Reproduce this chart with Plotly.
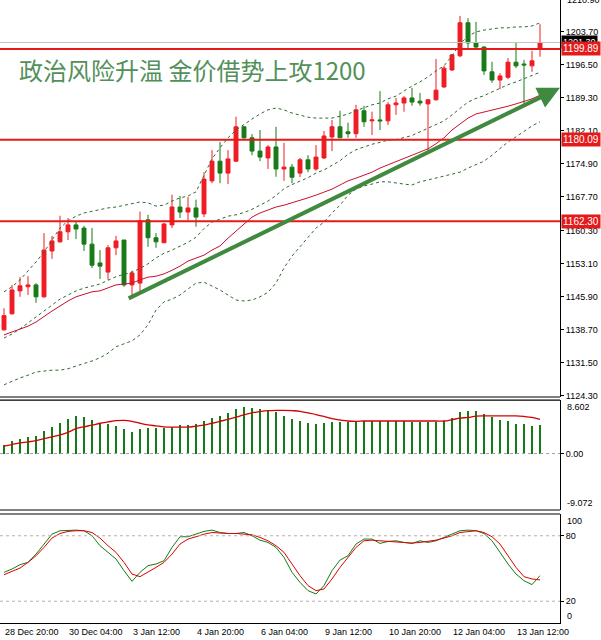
import plotly.graph_objects as go

# 4H gold candles (index 0 = 28 Dec 20:00)
opens = [1138.6, 1142.1, 1147.1, 1148.0, 1148.4, 1145.8, 1155.8, 1157.8, 1160.0, 1161.5,
         1160.8, 1157.3, 1153.2, 1151.2, 1156.5, 1158.2, 1148.4, 1148.8, 1162.6, 1158.7,
         1157.6, 1161.5, 1165.4, 1164.3, 1165.2, 1163.9, 1171.1, 1175.4, 1172.8, 1175.4,
         1182.9, 1180.5, 1177.6, 1176.1, 1178.5, 1173.7, 1174.1, 1172.8, 1175.7, 1173.7,
         1176.1, 1180.7, 1182.9, 1181.8, 1181.4, 1186.4, 1184.2, 1184.4, 1184.2, 1187.7,
         1188.1, 1189.2, 1188.5, 1187.9, 1188.8, 1191.6, 1195.3, 1198.4, 1205.6, 1201.2,
         1200.3, 1194.9, 1193.1, 1193.7, 1197.0, 1196.6, 1196.2, 1200.0]
highs = [1143.3, 1148.4, 1150.1, 1150.3, 1148.8, 1159.7, 1159.1, 1163.5, 1163.0, 1162.2,
         1161.3, 1160.8, 1156.0, 1157.1, 1159.1, 1158.2, 1151.5, 1164.4, 1163.7, 1159.7,
         1161.9, 1168.1, 1167.8, 1167.6, 1167.0, 1173.0, 1177.8, 1179.6, 1177.8, 1185.1,
         1183.1, 1181.3, 1182.2, 1178.9, 1182.9, 1179.4, 1174.8, 1176.1, 1176.7, 1178.9,
         1182.0, 1184.4, 1186.4, 1183.8, 1187.7, 1187.5, 1186.2, 1190.7, 1188.3, 1189.2,
         1189.6, 1191.4, 1190.3, 1188.9, 1197.7, 1196.2, 1198.8, 1207.1, 1206.6, 1205.8,
         1200.5, 1197.1, 1194.6, 1197.9, 1201.2, 1197.5, 1199.5, 1205.3]
lows = [1138.4, 1141.9, 1145.8, 1146.2, 1144.5, 1145.6, 1154.1, 1157.6, 1158.2, 1158.4,
        1155.8, 1152.1, 1149.7, 1149.5, 1154.9, 1148.0, 1146.2, 1146.9, 1156.7, 1156.5,
        1157.6, 1160.8, 1163.0, 1162.2, 1161.1, 1163.2, 1170.6, 1170.6, 1170.4, 1175.2,
        1180.3, 1176.7, 1175.4, 1173.7, 1172.0, 1171.1, 1170.6, 1171.9, 1173.0, 1173.3,
        1175.9, 1177.6, 1180.5, 1180.5, 1180.5, 1182.9, 1181.1, 1182.2, 1183.3, 1185.5,
        1186.2, 1187.5, 1187.5, 1177.4, 1188.6, 1191.4, 1195.1, 1198.1, 1200.1, 1200.1,
        1194.2, 1192.5, 1191.1, 1193.3, 1195.7, 1187.5, 1194.9, 1198.2]
closes = [1141.7, 1147.3, 1148.2, 1148.4, 1145.8, 1156.0, 1158.0, 1160.0, 1161.5, 1160.6,
          1157.3, 1152.7, 1152.5, 1156.5, 1158.0, 1148.4, 1151.0, 1162.4, 1158.7, 1157.8,
          1161.7, 1165.4, 1164.3, 1165.2, 1163.2, 1171.5, 1175.4, 1172.8, 1175.9, 1182.9,
          1180.5, 1177.6, 1176.3, 1178.5, 1173.7, 1174.1, 1171.9, 1175.7, 1173.7, 1176.3,
          1180.9, 1182.9, 1180.5, 1181.4, 1186.6, 1184.0, 1184.4, 1184.2, 1187.7, 1188.1,
          1189.2, 1188.3, 1188.1, 1188.8, 1190.9, 1195.7, 1198.6, 1205.6, 1201.2, 1200.3,
          1195.1, 1193.1, 1194.0, 1197.0, 1196.2, 1196.4, 1197.3, 1201.3]

# Bollinger bands (dashed) and the red moving average
bb_upper = [1146.9, 1148.0, 1149.5, 1151.4, 1153.4, 1155.6, 1158.2, 1160.8, 1162.4, 1163.4,
            1164.1, 1164.5, 1164.8, 1165.2, 1165.4, 1165.8, 1166.1, 1166.5, 1166.3, 1165.6,
            1165.8, 1166.7, 1167.4, 1167.8, 1168.7, 1172.4, 1175.9, 1178.3, 1180.5, 1182.2,
            1183.5, 1184.6, 1185.7, 1186.6, 1187.0, 1186.6, 1185.9, 1185.5, 1185.0, 1184.8,
            1184.8, 1184.8, 1185.2, 1185.7, 1186.4, 1187.0, 1187.7, 1188.1, 1189.0, 1189.6,
            1190.7, 1191.8, 1192.7, 1193.8, 1195.1, 1196.2, 1198.4, 1201.0, 1202.7, 1203.6,
            1204.0, 1204.2, 1204.5, 1204.5, 1204.7, 1204.7, 1204.9, 1205.6]
bb_middle = [1136.8, 1137.7, 1138.8, 1140.1, 1141.4, 1142.6, 1144.0, 1145.3, 1146.2, 1147.1,
             1147.7, 1148.2, 1148.6, 1149.4, 1150.2, 1150.7, 1151.2, 1152.0, 1153.0, 1154.3,
             1155.3, 1156.0, 1156.8, 1157.7, 1158.8, 1160.7, 1162.1, 1162.8, 1163.4, 1163.7,
             1164.2, 1164.9, 1165.8, 1166.7, 1167.9, 1169.4, 1170.3, 1171.1, 1171.8, 1172.8,
             1173.5, 1174.5, 1175.5, 1176.9, 1177.9, 1178.5, 1179.1, 1179.5, 1180.0, 1180.1,
             1180.6, 1181.0, 1181.8, 1182.6, 1183.4, 1184.2, 1185.5, 1187.0, 1188.3, 1189.1,
             1189.7, 1190.5, 1191.3, 1192.1, 1192.7, 1193.4, 1194.0, 1194.8]
bb_lower = [1126.6, 1127.4, 1128.1, 1128.7, 1129.4, 1129.6, 1129.8, 1129.8, 1130.1, 1130.7,
            1131.2, 1131.8, 1132.5, 1133.5, 1134.9, 1135.5, 1136.2, 1137.5, 1139.7, 1142.9,
            1144.7, 1145.3, 1146.2, 1147.5, 1148.8, 1149.0, 1148.2, 1147.3, 1146.2, 1145.1,
            1144.9, 1145.1, 1145.8, 1146.8, 1148.8, 1152.1, 1154.7, 1156.7, 1158.6, 1160.8,
            1162.1, 1164.1, 1165.8, 1168.0, 1169.3, 1170.0, 1170.4, 1170.9, 1170.9, 1170.6,
            1170.4, 1170.2, 1170.9, 1171.3, 1171.7, 1172.2, 1172.6, 1173.0, 1173.9, 1174.6,
            1175.4, 1176.7, 1178.1, 1179.6, 1180.7, 1182.0, 1183.1, 1184.0]
ma_red = [1137.5, 1138.1, 1138.8, 1139.4, 1140.3, 1141.6, 1142.7, 1143.8, 1144.9, 1145.8,
          1146.4, 1146.9, 1147.1, 1147.7, 1148.4, 1148.6, 1148.8, 1149.5, 1150.1, 1150.3,
          1150.8, 1151.6, 1152.5, 1153.6, 1154.3, 1154.9, 1156.0, 1156.9, 1158.6, 1160.2,
          1161.7, 1163.2, 1164.1, 1164.8, 1165.4, 1165.8, 1166.3, 1166.9, 1167.4, 1168.0,
          1168.7, 1169.3, 1170.2, 1171.1, 1171.7, 1172.4, 1173.0, 1173.9, 1174.6, 1175.2,
          1175.9, 1176.7, 1177.4, 1178.1, 1179.2, 1180.5, 1182.2, 1183.5, 1184.8, 1185.7,
          1186.1, 1186.6, 1187.0, 1187.4, 1187.9, 1188.5, 1189.0, 1189.8]

# MACD histogram and its signal line
macd_hist = [1.35, 1.97, 2.33, 2.59, 2.85, 3.63, 4.25, 4.97, 5.49, 5.96,
             5.85, 5.34, 4.97, 4.82, 4.46, 3.94, 3.52, 3.94, 4.04, 4.04,
             4.15, 4.25, 4.66, 4.66, 4.82, 5.18, 5.70, 6.11, 6.53, 7.15,
             7.41, 7.31, 7.15, 6.89, 6.63, 6.11, 5.49, 5.18, 4.92, 4.72,
             4.92, 5.08, 5.08, 5.08, 5.18, 5.18, 5.18, 5.18, 5.23, 5.28,
             5.23, 5.13, 5.08, 5.08, 5.08, 5.18, 5.70, 6.63, 6.89, 6.89,
             6.37, 5.85, 5.34, 5.23, 4.82, 4.82, 4.40, 4.56]
macd_signal = [1.19, 1.45, 1.71, 1.87, 2.07, 2.38, 2.69, 3.01, 3.42, 3.99,
               4.30, 4.56, 4.87, 5.08, 5.28, 5.34, 5.18, 4.87, 4.61, 4.46,
               4.30, 4.25, 4.25, 4.25, 4.40, 4.56, 4.87, 5.18, 5.49, 5.85,
               6.22, 6.53, 6.74, 6.89, 6.94, 6.94, 6.89, 6.79, 6.53, 6.27,
               5.96, 5.60, 5.39, 5.23, 5.18, 5.23, 5.23, 5.23, 5.23, 5.23,
               5.23, 5.23, 5.23, 5.23, 5.23, 5.23, 5.44, 5.70, 5.80, 6.01,
               6.06, 6.06, 6.06, 6.06, 6.06, 5.96, 5.80, 5.49]

# Stochastic %K (green) and %D (red)
stoch_k = [46.5, 49.5, 53.5, 55.6, 63.2, 72.4, 81.5, 84.6, 85.2, 85.2,
           84.6, 80.0, 70.9, 64.8, 58.7, 48.0, 38.2, 46.5, 52.6, 54.1,
           57.1, 69.3, 79.1, 79.1, 81.5, 84.0, 85.2, 83.0, 82.1, 82.1,
           83.0, 80.0, 76.0, 73.9, 69.3, 60.2, 46.5, 37.3, 29.7, 26.6,
           34.3, 48.0, 57.7, 61.7, 72.4, 77.0, 77.0, 73.0, 74.8, 75.4,
           73.9, 73.0, 75.4, 73.9, 75.4, 78.5, 80.9, 84.6, 85.2, 84.6,
           82.1, 75.4, 64.8, 54.1, 44.9, 38.8, 35.2, 43.4]
stoch_d = [44.3, 47.4, 50.4, 55.6, 61.7, 69.3, 77.9, 82.1, 84.0, 84.6,
           84.6, 83.0, 77.9, 70.9, 64.8, 55.6, 44.9, 42.5, 46.5, 51.0,
           55.6, 63.2, 72.4, 77.0, 79.1, 81.5, 83.0, 82.4, 82.1, 82.1,
           81.5, 80.9, 78.5, 75.4, 70.9, 64.8, 54.1, 43.4, 34.3, 29.7,
           31.2, 40.4, 51.0, 60.2, 69.3, 75.4, 76.0, 75.4, 74.8, 74.5,
           73.9, 73.3, 73.9, 74.8, 76.0, 77.9, 80.0, 83.0, 84.0, 84.6,
           83.0, 79.1, 72.4, 61.7, 51.0, 42.5, 40.4, 39.5]

time_pos = [0, 8, 16, 24, 32, 40, 48, 56, 64]
time_labels = ["28 Dec 20:00", "30 Dec 04:00", "3 Jan 12:00", "4 Jan 20:00", "6 Jan 04:00",
               "9 Jan 12:00", "10 Jan 20:00", "12 Jan 04:00", "13 Jan 12:00"]

price_ticks = [1203.70, 1196.50, 1189.30, 1182.10, 1174.90, 1167.70,
               1160.30, 1153.10, 1145.90, 1138.70, 1131.50, 1124.30]
levels = [1199.89, 1180.09, 1162.30]
bid = 1201.30
trend_start = (15.4, 1145.3)
trend_end = (69.5, 1191.4)
title = "政治风险升温 金价借势上攻1200"

RED = "#ee1c25"
GREEN = "#177a17"
BAND = "#2f6a2f"
AXFONT = dict(family="Liberation Sans, Arial, sans-serif", size=9, color="black")

idx = list(range(len(closes)))
fig = go.Figure()

# main window
fig.add_trace(go.Candlestick(
    x=idx, open=opens, high=highs, low=lows, close=closes,
    increasing=dict(line=dict(color=RED, width=1), fillcolor=RED),
    decreasing=dict(line=dict(color=GREEN, width=1), fillcolor=GREEN),
    whiskerwidth=0, xaxis="x", yaxis="y", showlegend=False))
for band in (bb_upper, bb_middle, bb_lower):
    fig.add_trace(go.Scatter(x=idx, y=band, mode="lines", xaxis="x", yaxis="y",
                             line=dict(color=BAND, width=1, dash="3px,3px"), showlegend=False))
fig.add_trace(go.Scatter(x=idx, y=ma_red, mode="lines", xaxis="x", yaxis="y",
                         line=dict(color="#c8102e", width=1), showlegend=False))

# MACD window
fig.add_trace(go.Bar(x=idx, y=macd_hist, width=0.22, marker=dict(color=GREEN, line=dict(width=0)),
                     xaxis="x2", yaxis="y2", showlegend=False))
fig.add_trace(go.Scatter(x=idx, y=macd_signal, mode="lines", xaxis="x2", yaxis="y2",
                         line=dict(color="#d40000", width=1.3, shape="spline"), showlegend=False))

# Stochastic window
fig.add_trace(go.Scatter(x=idx, y=stoch_k, mode="lines", xaxis="x3", yaxis="y3",
                         line=dict(color=GREEN, width=1), showlegend=False))
fig.add_trace(go.Scatter(x=idx, y=stoch_d, mode="lines", xaxis="x3", yaxis="y3",
                         line=dict(color="#e00000", width=1), showlegend=False))

xr = [-0.5, 69.5]
main_dom = [0.3628, 1.0]
macd_dom = [0.1814, 0.3579]
stoch_dom = [0.0, 0.175]

shapes = []
# bid line and support/resistance lines
shapes.append(dict(type="line", xref="x", yref="y", x0=xr[0], x1=xr[1], y0=bid, y1=bid,
                   line=dict(color="#c4c4c4", width=1)))
for lv in levels:
    shapes.append(dict(type="line", xref="x", yref="y", x0=xr[0], x1=xr[1], y0=lv, y1=lv,
                       line=dict(color="#e51a1a", width=2)))
shapes.append(dict(type="line", xref="x2", yref="y2", x0=xr[0], x1=xr[1], y0=0, y1=0,
                   line=dict(color="#a0a0a0", width=1, dash="dot")))
for lv in (20, 80):
    shapes.append(dict(type="line", xref="x3", yref="y3", x0=xr[0], x1=xr[1], y0=lv, y1=lv,
                       line=dict(color="#b0b0b0", width=1, dash="3px,3px")))
# window borders
for yb in (main_dom[0], macd_dom[1], macd_dom[0], stoch_dom[1]):
    shapes.append(dict(type="line", xref="paper", yref="paper", x0=0, x1=1, y0=yb, y1=yb,
                       line=dict(color="black", width=1.2)))

ann = []
ann.append(dict(xref="paper", yref="paper", x=0.03, y=0.888, xanchor="left", yanchor="middle",
                text=title, showarrow=False,
                font=dict(family="Noto Sans CJK SC", size=24, color="#52905a")))
ann.append(dict(xref="x", yref="y", x=trend_end[0], y=trend_end[1], ax=trend_start[0], ay=trend_start[1],
                axref="x", ayref="y", text="", showarrow=True, arrowhead=2, arrowsize=1.1,
                arrowwidth=4, arrowcolor="#3f8a3f"))
ann.append(dict(xref="paper", yref="y", x=1, y=bid, xanchor="left", yanchor="middle", xshift=1,
                text="1201.30", showarrow=False, bgcolor="black", borderpad=1,
                font=dict(family=AXFONT["family"], size=9, color="white")))
for lv in levels:
    ann.append(dict(xref="paper", yref="y", x=1, y=lv, xanchor="left", yanchor="middle", xshift=1,
                    text=f"{lv:.2f}", showarrow=False, bgcolor="#e51a1a", borderpad=1,
                    font=dict(family=AXFONT["family"], size=10, color="white")))
ann.append(dict(xref="paper", yref="paper", x=1, y=1, xanchor="left", yanchor="middle", xshift=5,
                text="1210.90", showarrow=False, font=AXFONT))
ann.append(dict(xref="paper", yref="y2", x=1, y=8.602, xanchor="left", yanchor="top", xshift=5,
                text="8.602", showarrow=False, font=AXFONT))
ann.append(dict(xref="paper", yref="y2", x=1, y=-9.072, xanchor="left", yanchor="bottom", xshift=5,
                text="-9.072", showarrow=False, font=AXFONT))
ann.append(dict(xref="paper", yref="y3", x=1, y=100, xanchor="left", yanchor="top", xshift=5,
                text="100", showarrow=False, font=AXFONT))
ann.append(dict(xref="paper", yref="y3", x=1, y=0, xanchor="left", yanchor="bottom", xshift=5,
                text="0", showarrow=False, font=AXFONT))
for p, t in zip(time_pos, time_labels):
    ann.append(dict(xref="x3", yref="paper", x=p - 0.15, y=0, xanchor="left", yanchor="top", yshift=-2,
                    text=t, showarrow=False, font=AXFONT))

hidden_x = dict(range=xr, showticklabels=False, showgrid=False, zeroline=False, showline=False, ticks="")
yax_common = dict(side="right", showgrid=False, zeroline=False, showline=True, linecolor="black",
                  linewidth=1, ticks="outside", ticklen=3, tickcolor="black", tickfont=AXFONT)

fig.update_layout(
    width=601, height=640,
    margin=dict(l=0, r=41, t=0, b=17),
    paper_bgcolor="white", plot_bgcolor="white",
    showlegend=False, bargap=0,
    xaxis=dict(hidden_x, anchor="y", rangeslider=dict(visible=False)),
    xaxis2=dict(hidden_x, anchor="y2"),
    xaxis3=dict(range=xr, anchor="y3", showticklabels=False, showgrid=False, zeroline=False,
                showline=True, linecolor="black", linewidth=1, ticks=""),
    yaxis=dict(yax_common, domain=main_dom, anchor="x", range=[1123.95, 1210.57],
               tickvals=price_ticks, ticktext=[f"{v:.2f}" for v in price_ticks]),
    yaxis2=dict(yax_common, domain=macd_dom, anchor="x2", range=[-9.072, 8.602],
                tickvals=[0], ticktext=["0.00"]),
    yaxis3=dict(yax_common, domain=stoch_dom, anchor="x3", range=[0, 100],
                tickvals=[20, 80], ticktext=["20", "80"]),
    shapes=shapes, annotations=ann,
)

# page body has a default 8px margin; drop it so the 601x640 figure fills the window
fig.write_html("out.html", config={"displayModeBar": False},
               post_script="document.body.style.margin='0px';")
